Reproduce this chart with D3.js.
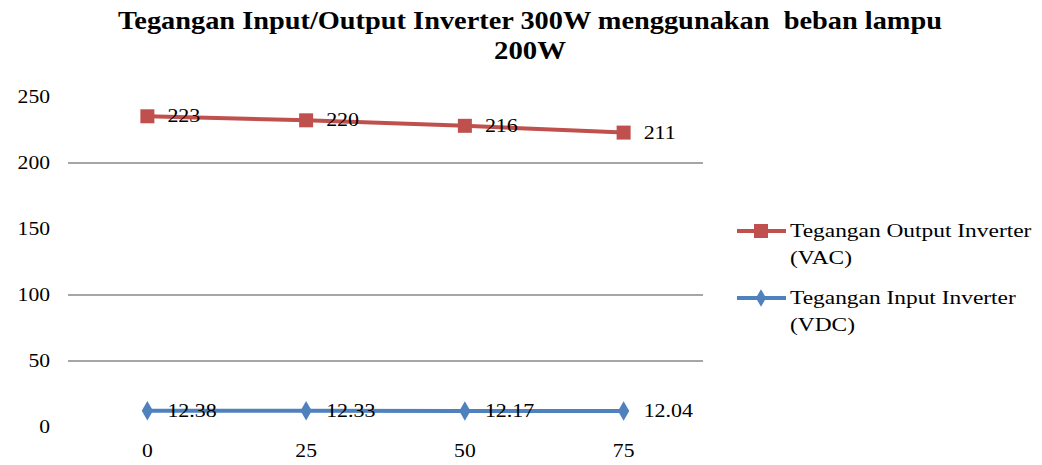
<!DOCTYPE html>
<html>
<head>
<meta charset="utf-8">
<script src="https://cdn.jsdelivr.net/npm/d3@7"></script>
<style>
  body { margin: 0; background: #fff; }
  svg text { font-family: "Liberation Serif", "Times New Roman", serif; fill: #000; white-space: pre; }
</style>
</head>
<body>
<svg width="1042" height="465"></svg>
<script>
var categories = ["0", "25", "50", "75"];
var inputVDC = [12.38, 12.33, 12.17, 12.04];
var outputVAC = [223, 220, 216, 211];
var yTicks = [0, 50, 100, 150, 200, 250];
var gridTicks = [50, 100, 200];

var svg = d3.select("svg");

// the original text is a wide serif, stretch Liberation Serif horizontally
function stretch(sel, k) {
  sel.each(function() {
    var w = this.getComputedTextLength();
    d3.select(this).attr("textLength", w * k).attr("lengthAdjust", "spacingAndGlyphs");
  });
}

var x = d3.scaleBand().domain(categories).range([68, 703]);
var y = d3.scaleLinear().domain([0, 250]).range([427, 97]);

// stacked line: output sits on top of input
var rows = categories.map(function(c, i) { return { cat: c, inp: inputVDC[i], out: outputVAC[i] }; });
var stacked = d3.stack().keys(["inp", "out"])(rows);

// title
svg.append("text").attr("x", 530).attr("y", 29).attr("text-anchor", "middle")
  .style("font-size", "25px").style("font-weight", "bold")
  .text("Tegangan Input/Output Inverter 300W menggunakan  beban lampu")
  .attr("textLength", 824).attr("lengthAdjust", "spacingAndGlyphs");
svg.append("text").attr("x", 530).attr("y", 59).attr("text-anchor", "middle")
  .style("font-size", "25px").style("font-weight", "bold")
  .text("200W").call(stretch, 1.15);

// gridlines
svg.append("g").selectAll("line").data(gridTicks).enter().append("line")
  .attr("x1", 68).attr("x2", 703)
  .attr("y1", function(d) { return y(d); }).attr("y2", function(d) { return y(d); })
  .attr("stroke", "#888").attr("stroke-width", 1.5);

// y axis labels
var yAxis = svg.append("g").attr("transform", "translate(50,0)")
  .call(d3.axisLeft(y).tickValues(yTicks).tickSize(0).tickPadding(0));
yAxis.attr("font-family", null).attr("font-size", null);
yAxis.select(".domain").remove();
yAxis.selectAll("text").style("font-size", "18px").call(stretch, 1.2);

// x axis labels
var xAxis = svg.append("g").attr("transform", "translate(0,444)")
  .call(d3.axisBottom(x).tickSize(0).tickPadding(0));
xAxis.attr("font-family", null).attr("font-size", null);
xAxis.select(".domain").remove();
xAxis.selectAll("text").style("font-size", "18px").call(stretch, 1.2);

var cx = function(d) { return x(d.data.cat) + x.bandwidth() / 2; };
var line = d3.line().x(cx).y(function(d) { return y(d[1]); });

var colors = { inp: "#4F81BD", out: "#C0504D" };
var values = { inp: inputVDC, out: outputVAC };

stacked.forEach(function(s) {
  var col = colors[s.key];
  svg.append("path").datum(s).attr("d", line)
    .attr("fill", "none").attr("stroke", col).attr("stroke-width", 4);
  var g = svg.append("g");
  if (s.key === "out") {
    g.selectAll("rect").data(s).enter().append("rect")
      .attr("x", function(d) { return cx(d) - 7; }).attr("y", function(d) { return y(d[1]) - 7; })
      .attr("width", 14).attr("height", 14).attr("fill", col);
  } else {
    g.selectAll("path").data(s).enter().append("path")
      .attr("d", d3.symbol().type(d3.symbolDiamond).size(110))
      .attr("transform", function(d) { return "translate(" + cx(d) + "," + y(d[1]) + ")"; })
      .attr("fill", col);
  }
  // data labels show the series value
  svg.append("g").selectAll("text").data(s).enter().append("text")
    .attr("x", function(d) { return cx(d) + 20; })
    .attr("y", function(d) { return y(d[1]) + 6; })
    .style("font-size", "18px")
    .text(function(d, i) { return values[s.key][i]; })
    .call(stretch, 1.22);
});

// legend
var legend = [
  { key: "out", y: 231, lines: ["Tegangan Output Inverter", "(VAC)"] },
  { key: "inp", y: 298, lines: ["Tegangan Input Inverter", "(VDC)"] }
];
legend.forEach(function(l) {
  var g = svg.append("g");
  g.append("line").attr("x1", 737).attr("x2", 786).attr("y1", l.y).attr("y2", l.y)
    .attr("stroke", colors[l.key]).attr("stroke-width", 4);
  if (l.key === "out") {
    g.append("rect").attr("x", 754).attr("y", l.y - 7).attr("width", 14).attr("height", 14)
      .attr("fill", colors[l.key]);
  } else {
    g.append("path").attr("d", d3.symbol().type(d3.symbolDiamond).size(90))
      .attr("transform", "translate(761," + l.y + ")").attr("fill", colors[l.key]);
  }
  l.lines.forEach(function(t, i) {
    g.append("text").attr("x", 790).attr("y", l.y + 6 + i * 27)
      .style("font-size", "18px").text(t).call(stretch, 1.3);
  });
});
</script>
</body>
</html>
